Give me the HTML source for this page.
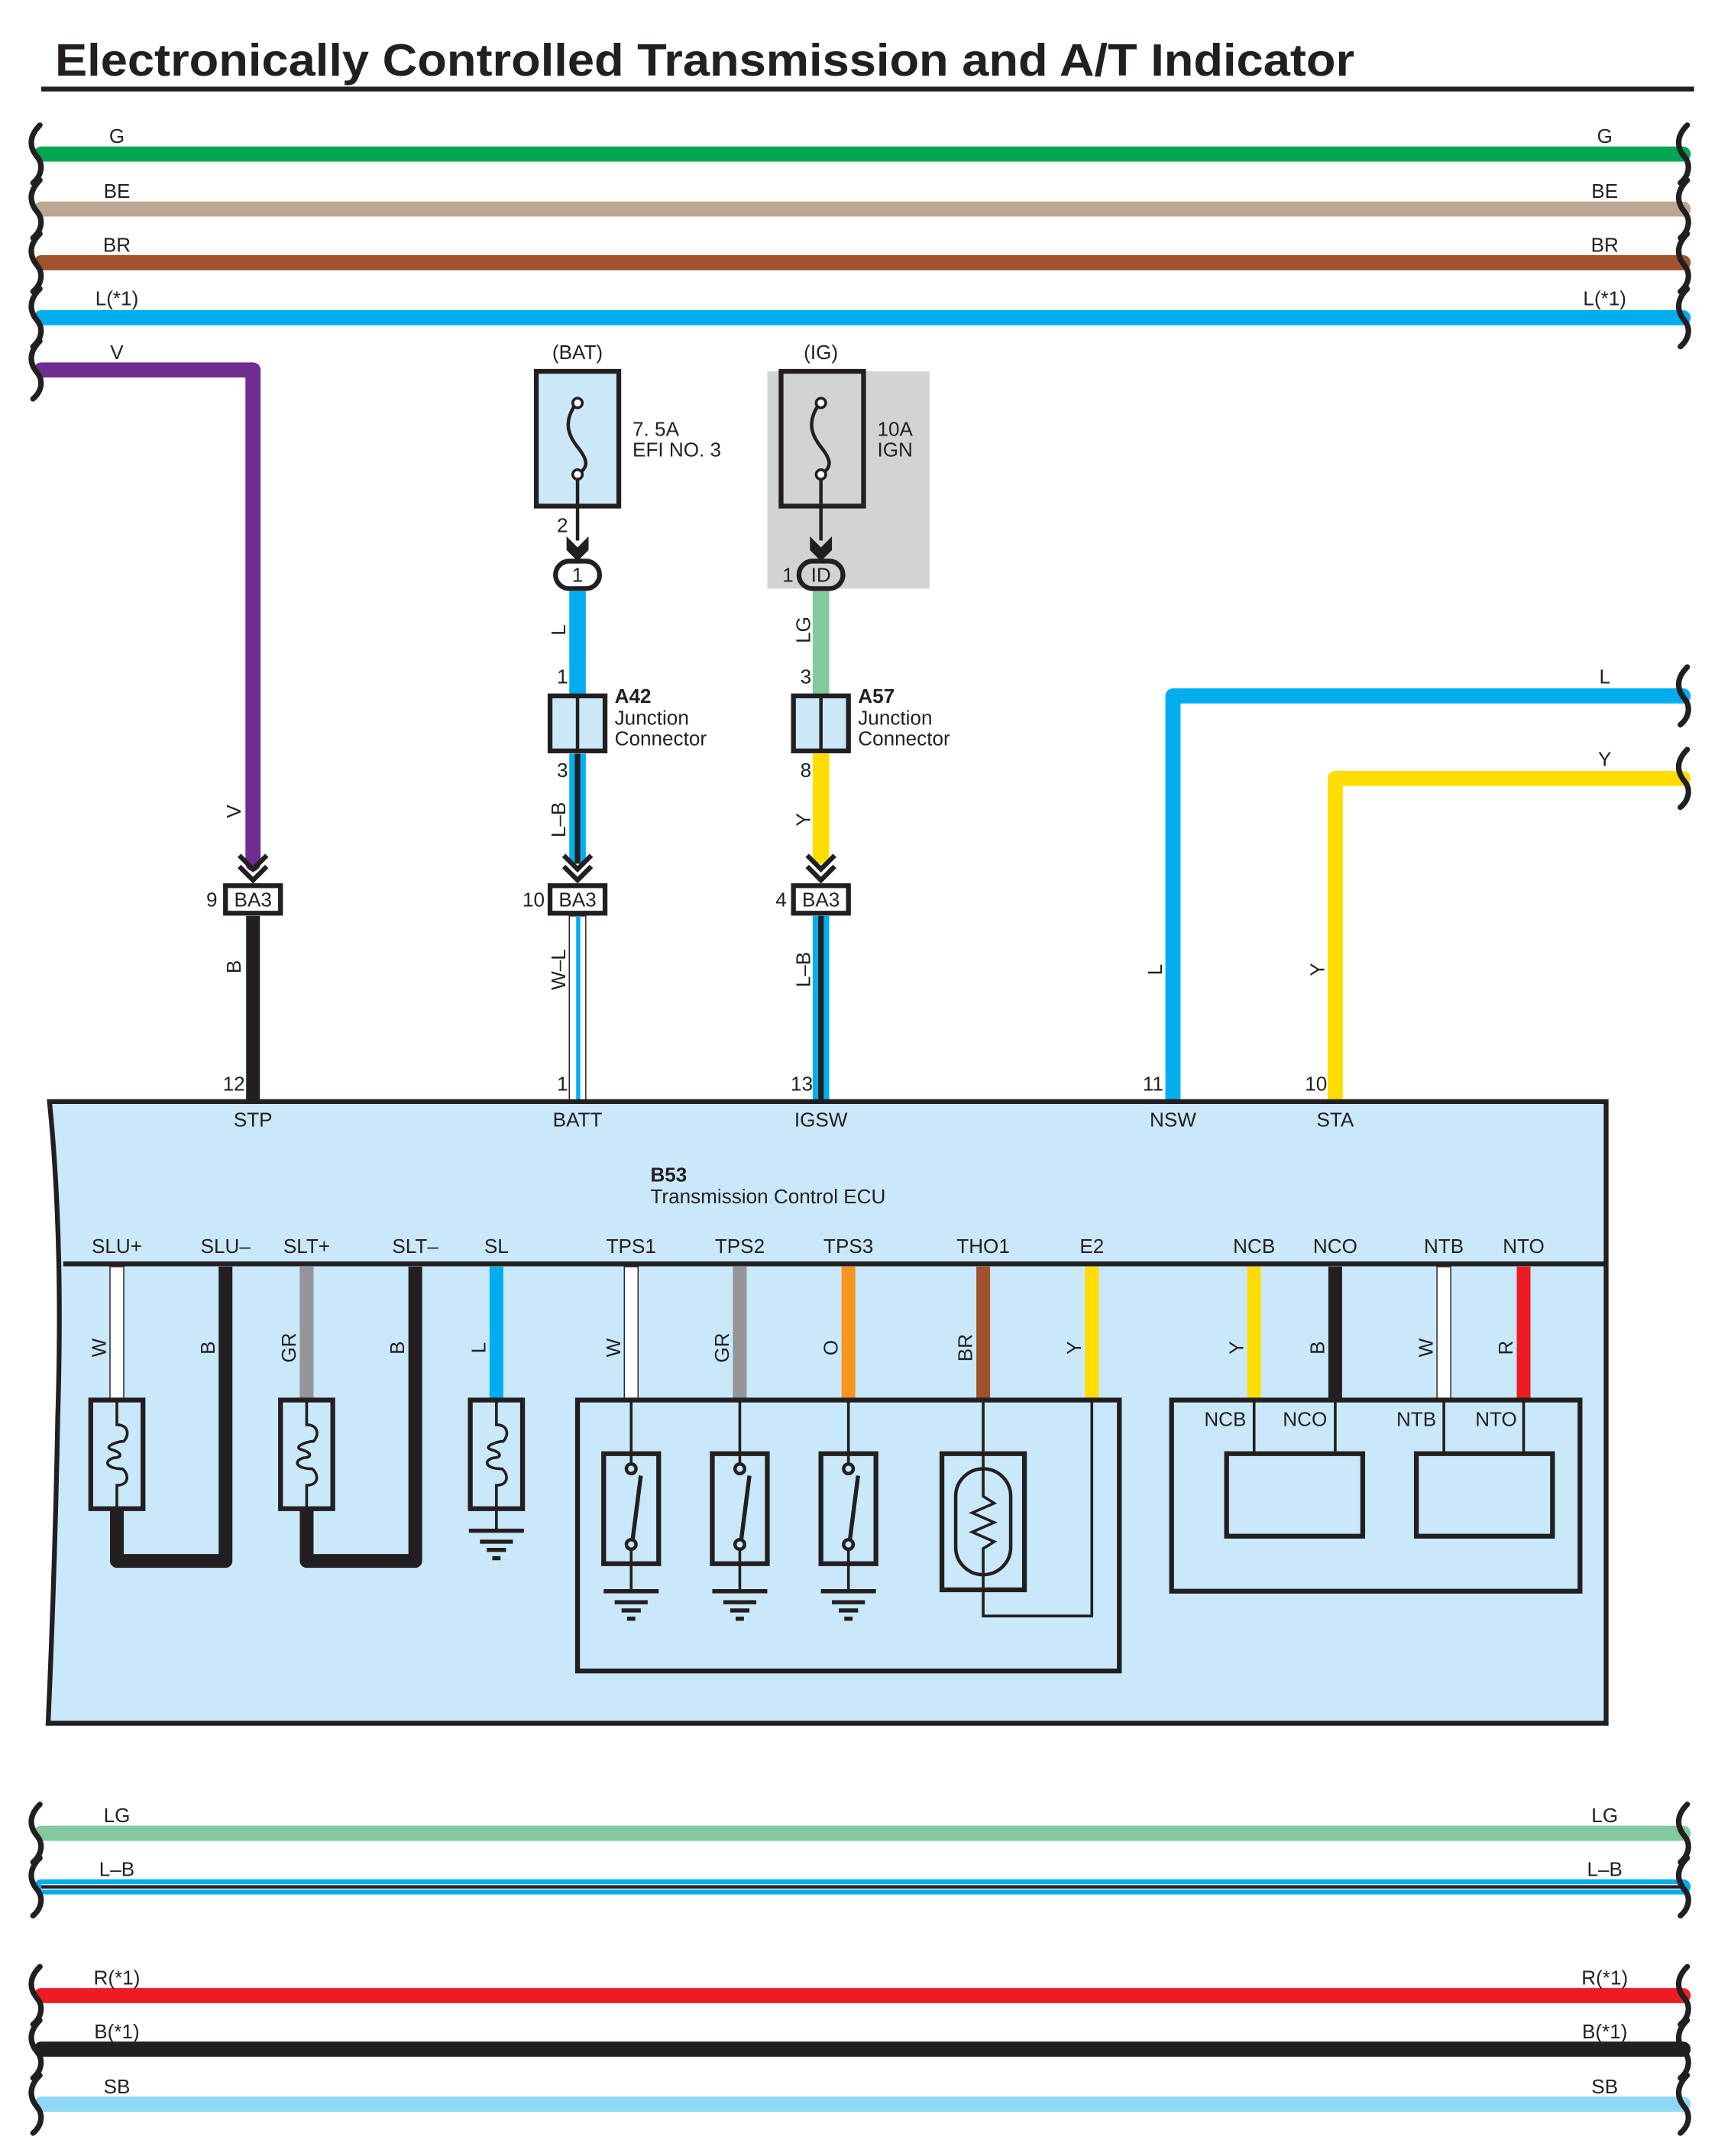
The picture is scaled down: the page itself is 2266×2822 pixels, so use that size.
<!DOCTYPE html>
<html><head><meta charset="utf-8"><style>
html,body{margin:0;padding:0;background:#fff;}
svg{display:block;}
text{font-family:"Liberation Sans Narrow","Liberation Sans",sans-serif;fill:#231f20;}
.t{font-size:14.5px;}
.c{text-anchor:middle;}
</style></head><body>
<svg width="2266" height="2822" viewBox="0 0 1250 1556.7" preserveAspectRatio="none" xmlns="http://www.w3.org/2000/svg">
<defs>
<path id="sq" d="M5,-21 C-4,-12 -2,-4 3,2 C8,8 6,16 0,21" fill="none" stroke="#231f20" stroke-width="4" stroke-linecap="round"/>
<g id="chev" fill="none" stroke="#231f20" stroke-width="3.5"><path d="M-10,-14 L0,-4 L10,-14"/><path d="M-10,-6 L0,4 L10,-6"/></g>
<g id="gnd" stroke="#231f20" stroke-width="3"><path d="M-20,0 H20 M-12,8 H12 M-7,14 H7 M-3,20 H3"/></g>
<g id="sol" fill="none" stroke="#231f20"><rect x="-19" y="0" width="38" height="79" stroke-width="3.5"/><path d="M0,0 V18 C9,18 9,26 5,30 C0,30 -10,34 -4,36 C4,38 4,42 -2,42 C-10,44 -8,50 4,50 C9,54 9,62 0,62 V79" stroke-width="2"/></g>
<g id="sw" fill="none" stroke="#231f20"><rect x="-20" y="0" width="40" height="80" stroke-width="3.5"/><path d="M0,-39 V7 M0,69 V100" stroke-width="2"/><circle cx="0" cy="11" r="3.5" stroke-width="2.5"/><circle cx="0" cy="66" r="3.5" stroke-width="2.5"/><path d="M1,63 L7,16" stroke-width="3"/></g>
</defs>
<g transform="scale(0.993)">
<text x="40" y="55" textLength="945" lengthAdjust="spacingAndGlyphs" style="font-family:'Liberation Sans',sans-serif;font-weight:bold;font-size:33px">Electronically Controlled Transmission and A/T Indicator</text>
<rect x="30" y="63" width="1202" height="3.5" fill="#231f20"/>

<g stroke-width="11" stroke-linecap="round" fill="none">
<path d="M30,112 H1224" stroke="#00a651"/>
<path d="M30,152 H1224" stroke="#bca792"/>
<path d="M30,191 H1224" stroke="#a0522d"/>
<path d="M30,231 H1224" stroke="#00aeef"/>
<path d="M30,269 H184 V628" stroke="#6f2c91" stroke-linejoin="round"/>
</g>
<use href="#sq" x="24" y="112"/><use href="#sq" x="24" y="152"/><use href="#sq" x="24" y="191"/><use href="#sq" x="24" y="231"/><use href="#sq" x="24" y="269"/>
<use href="#sq" x="1222" y="112"/><use href="#sq" x="1222" y="152"/><use href="#sq" x="1222" y="191"/><use href="#sq" x="1222" y="231"/>
<g class="t c">
<text x="85" y="104">G</text><text x="85" y="144">BE</text><text x="85" y="183">BR</text><text x="85" y="222">L(*1)</text><text x="85" y="261">V</text>
<text x="1167" y="104">G</text><text x="1167" y="144">BE</text><text x="1167" y="183">BR</text><text x="1167" y="222">L(*1)</text>
</g>

<use href="#chev" x="184" y="636"/>
<rect x="164" y="644" width="40" height="20" fill="#fff" stroke="#231f20" stroke-width="3.5"/>
<text class="t c" x="184" y="659">BA3</text><text class="t" x="150" y="659">9</text>
<rect x="179" y="666" width="10" height="134" fill="#231f20"/>
<text class="t c" transform="translate(175,590) rotate(-90)">V</text>
<text class="t c" transform="translate(175,703) rotate(-90)">B</text>
<text class="t" x="162" y="793">12</text>

<text class="t c" x="420" y="261">(BAT)</text>
<rect x="390" y="270" width="60" height="98" fill="#cce8f8" stroke="#231f20" stroke-width="3.5"/>
<path d="M420,292 C410,305 412,315 420,325 C428,335 428,340 420,345 V393" fill="none" stroke="#231f20" stroke-width="2.5"/>
<circle cx="420" cy="293" r="3.5" fill="#fff" stroke="#231f20" stroke-width="2"/><circle cx="420" cy="345" r="3.5" fill="#fff" stroke="#231f20" stroke-width="2"/>
<path d="M412,390 L420,398 L428,390 L428,400 L420,408 L412,400Z" fill="#231f20"/>
<text class="t" x="460" y="317">7. 5A</text><text class="t" x="460" y="332">EFI NO. 3</text>
<text class="t" x="405" y="387">2</text>
<rect x="404" y="408" width="32" height="20" rx="10" fill="#fff" stroke="#231f20" stroke-width="3.5"/>
<text class="t c" x="420" y="423">1</text>
<rect x="414" y="430" width="12" height="76" fill="#00aeef"/>
<text class="t c" transform="translate(411,458) rotate(-90)">L</text>
<text class="t" x="405" y="497">1</text>
<rect x="400" y="506" width="40" height="40" fill="#cce8f8" stroke="#231f20" stroke-width="3.5"/>
<path d="M420,506 V546" stroke="#231f20" stroke-width="2.5"/>
<text x="447" y="511" style="font-size:14.5px;font-weight:bold">A42</text>
<text class="t" x="447" y="527">Junction</text><text class="t" x="447" y="542">Connector</text>
<text class="t" x="405" y="565">3</text>
<rect x="414" y="548" width="12" height="80" fill="#00aeef"/><rect x="418" y="548" width="4" height="80" fill="#231f20"/>
<text class="t c" transform="translate(411,596) rotate(-90)">L–B</text>
<use href="#chev" x="420" y="636"/>
<rect x="400" y="644" width="40" height="20" fill="#fff" stroke="#231f20" stroke-width="3.5"/>
<text class="t c" x="420" y="659">BA3</text><text class="t" x="380" y="659">10</text>
<rect x="414" y="666" width="12" height="134" fill="#fff" stroke="#231f20" stroke-width="0.8"/><rect x="419" y="666" width="3" height="134" fill="#00aeef"/>
<text class="t c" transform="translate(411,705) rotate(-90)">W–L</text>
<text class="t" x="405" y="793">1</text>

<rect x="558" y="270" width="118" height="158" fill="#d1d3d4"/>
<text class="t c" x="597" y="261">(IG)</text>
<rect x="568" y="270" width="60" height="98" fill="#d1d3d4" stroke="#231f20" stroke-width="3.5"/>
<path d="M597,292 C587,305 589,315 597,325 C605,335 605,340 597,345 V393" fill="none" stroke="#231f20" stroke-width="2.5"/>
<circle cx="597" cy="293" r="3.5" fill="#fff" stroke="#231f20" stroke-width="2"/><circle cx="597" cy="345" r="3.5" fill="#fff" stroke="#231f20" stroke-width="2"/>
<path d="M589,390 L597,398 L605,390 L605,400 L597,408 L589,400Z" fill="#231f20"/>
<text class="t" x="638" y="317">10A</text><text class="t" x="638" y="332">IGN</text>
<rect x="581" y="408" width="32" height="20" rx="10" fill="#d1d3d4" stroke="#231f20" stroke-width="3.5"/>
<text class="t c" x="597" y="423">ID</text><text class="t" x="569" y="423">1</text>
<rect x="591" y="430" width="12" height="76" fill="#82c99d"/>
<text class="t c" transform="translate(589,458) rotate(-90)">LG</text>
<text class="t" x="582" y="497">3</text>
<rect x="577" y="506" width="40" height="40" fill="#cce8f8" stroke="#231f20" stroke-width="3.5"/>
<path d="M597,506 V546" stroke="#231f20" stroke-width="2.5"/>
<text x="624" y="511" style="font-size:14.5px;font-weight:bold">A57</text>
<text class="t" x="624" y="527">Junction</text><text class="t" x="624" y="542">Connector</text>
<text class="t" x="582" y="565">8</text>
<rect x="591" y="548" width="12" height="80" fill="#ffdd00"/>
<text class="t c" transform="translate(589,596) rotate(-90)">Y</text>
<use href="#chev" x="597" y="636"/>
<rect x="577" y="644" width="40" height="20" fill="#fff" stroke="#231f20" stroke-width="3.5"/>
<text class="t c" x="597" y="659">BA3</text><text class="t" x="564" y="659">4</text>
<rect x="591" y="666" width="12" height="134" fill="#00aeef"/><rect x="595" y="666" width="4" height="134" fill="#231f20"/>
<text class="t c" transform="translate(589,705) rotate(-90)">L–B</text>
<text class="t" x="575" y="793">13</text>

<path d="M1224,506 H853 V800" fill="none" stroke="#00aeef" stroke-width="11" stroke-linecap="round" stroke-linejoin="round"/>
<path d="M1224,566 H971 V800" fill="none" stroke="#ffdd00" stroke-width="11" stroke-linecap="round" stroke-linejoin="round"/>
<use href="#sq" x="1222" y="506"/><use href="#sq" x="1222" y="566"/>
<text class="t c" x="1167" y="497">L</text><text class="t c" x="1167" y="557">Y</text>
<text class="t c" transform="translate(845,705) rotate(-90)">L</text>
<text class="t c" transform="translate(963,705) rotate(-90)">Y</text>
<text class="t" x="831" y="793">11</text><text class="t" x="949" y="793">10</text>

<path d="M36,801 H1168 V1253 H35 Q40,1140 42,1030 Q46,900 36,801Z" fill="#c9e8f9" stroke="#231f20" stroke-width="3.5"/>
<path d="M46,919 H1168" stroke="#231f20" stroke-width="3.5"/>
<g class="t c">
<text x="184" y="819">STP</text><text x="420" y="819">BATT</text><text x="597" y="819">IGSW</text><text x="853" y="819">NSW</text><text x="971" y="819">STA</text>
<text x="85" y="911">SLU+</text><text x="164" y="911">SLU–</text><text x="223" y="911">SLT+</text><text x="302" y="911">SLT–</text><text x="361" y="911">SL</text>
<text x="459" y="911">TPS1</text><text x="538" y="911">TPS2</text><text x="617" y="911">TPS3</text><text x="715" y="911">THO1</text><text x="794" y="911">E2</text>
<text x="912" y="911">NCB</text><text x="971" y="911">NCO</text><text x="1050" y="911">NTB</text><text x="1108" y="911">NTO</text>
</g>
<text x="473" y="859" style="font-size:14.5px;font-weight:bold">B53</text>
<text class="t" x="473" y="875">Transmission Control ECU</text>

<rect x="80" y="921" width="10" height="97" fill="#fff" stroke="#231f20" stroke-width="0.8"/>
<path d="M85,1097 V1135 H164 V921" fill="none" stroke="#231f20" stroke-width="10" stroke-linejoin="round"/>
<rect x="218" y="921" width="10" height="97" fill="#939598"/>
<path d="M223,1097 V1135 H302 V921" fill="none" stroke="#231f20" stroke-width="10" stroke-linejoin="round"/>
<rect x="356" y="921" width="10" height="97" fill="#00aeef"/>
<use href="#sol" x="85" y="1018"/><use href="#sol" x="223" y="1018"/><use href="#sol" x="361" y="1018"/>
<path d="M361,1097 V1113" stroke="#231f20" stroke-width="2"/>
<use href="#gnd" x="361" y="1113"/>
<g class="t c">
<text transform="translate(77,980) rotate(-90)">W</text><text transform="translate(156,980) rotate(-90)">B</text>
<text transform="translate(215,980) rotate(-90)">GR</text><text transform="translate(294,980) rotate(-90)">B</text>
<text transform="translate(353,980) rotate(-90)">L</text>
<text transform="translate(451,980) rotate(-90)">W</text><text transform="translate(530,980) rotate(-90)">GR</text>
<text transform="translate(609,980) rotate(-90)">O</text><text transform="translate(707,980) rotate(-90)">BR</text>
<text transform="translate(786,980) rotate(-90)">Y</text>
<text transform="translate(904,980) rotate(-90)">Y</text><text transform="translate(963,980) rotate(-90)">B</text>
<text transform="translate(1042,980) rotate(-90)">W</text><text transform="translate(1100,980) rotate(-90)">R</text>
</g>
<rect x="454" y="921" width="10" height="97" fill="#fff" stroke="#231f20" stroke-width="0.8"/>
<rect x="533" y="921" width="10" height="97" fill="#939598"/>
<rect x="612" y="921" width="10" height="97" fill="#f7941d"/>
<rect x="710" y="921" width="10" height="97" fill="#a0522d"/>
<rect x="789" y="921" width="10" height="97" fill="#ffdd00"/>
<rect x="907" y="921" width="10" height="97" fill="#ffdd00"/>
<rect x="966" y="921" width="10" height="97" fill="#231f20"/>
<rect x="1045" y="921" width="10" height="97" fill="#fff" stroke="#231f20" stroke-width="0.8"/>
<rect x="1103" y="921" width="10" height="97" fill="#ed1c24"/>

<rect x="420" y="1018" width="394" height="197" fill="none" stroke="#231f20" stroke-width="3.5"/>
<use href="#sw" x="459" y="1057"/><use href="#sw" x="538" y="1057"/><use href="#sw" x="617" y="1057"/>
<use href="#gnd" x="459" y="1157"/><use href="#gnd" x="538" y="1157"/><use href="#gnd" x="617" y="1157"/>
<rect x="685" y="1057" width="60" height="99" fill="none" stroke="#231f20" stroke-width="3.5"/>
<rect x="695" y="1068" width="40" height="77" rx="20" fill="none" stroke="#231f20" stroke-width="2.5"/>
<path d="M715,1018 V1088 L723,1093 L707,1100 L723,1107 L707,1114 L723,1121 L715,1126 V1175 H794 V1018" fill="none" stroke="#231f20" stroke-width="2"/>

<rect x="852" y="1018" width="297" height="139" fill="none" stroke="#231f20" stroke-width="3.5"/>
<rect x="892" y="1057" width="99" height="60" fill="none" stroke="#231f20" stroke-width="3.5"/>
<rect x="1030" y="1057" width="99" height="60" fill="none" stroke="#231f20" stroke-width="3.5"/>
<path d="M912,1018 V1057 M971,1018 V1057 M1050,1018 V1057 M1108,1018 V1057" stroke="#231f20" stroke-width="2"/>
<g class="t c"><text x="891" y="1037">NCB</text><text x="949" y="1037">NCO</text><text x="1030" y="1037">NTB</text><text x="1088" y="1037">NTO</text></g>

<g stroke-width="11" stroke-linecap="round" fill="none">
<path d="M30,1333 H1224" stroke="#82c99d"/>
<path d="M30,1372 H1224" stroke="#00aeef"/>
<path d="M30,1451 H1224" stroke="#ed1c24"/>
<path d="M30,1490 H1224" stroke="#231f20"/>
<path d="M30,1530 H1224" stroke="#8fd8f6"/>
</g>
<path d="M30,1372 H1224" stroke="#fff" stroke-width="4"/><path d="M30,1372 H1224" stroke="#231f20" stroke-width="2.5"/>
<use href="#sq" x="24" y="1333"/><use href="#sq" x="24" y="1372"/><use href="#sq" x="24" y="1451"/><use href="#sq" x="24" y="1490"/><use href="#sq" x="24" y="1530"/>
<use href="#sq" x="1222" y="1333"/><use href="#sq" x="1222" y="1372"/><use href="#sq" x="1222" y="1451"/><use href="#sq" x="1222" y="1490"/><use href="#sq" x="1222" y="1530"/>
<g class="t c">
<text x="85" y="1325">LG</text><text x="85" y="1364">L–B</text><text x="85" y="1443">R(*1)</text><text x="85" y="1482">B(*1)</text><text x="85" y="1522">SB</text>
<text x="1167" y="1325">LG</text><text x="1167" y="1364">L–B</text><text x="1167" y="1443">R(*1)</text><text x="1167" y="1482">B(*1)</text><text x="1167" y="1522">SB</text>
</g>
</g>
</svg>
</body></html>
